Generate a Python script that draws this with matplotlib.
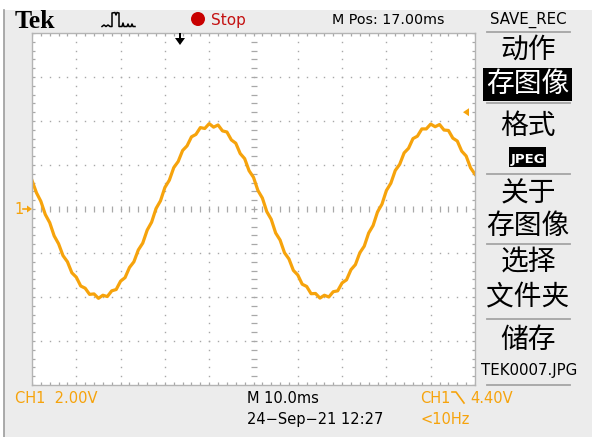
import matplotlib
matplotlib.use("Agg")
import matplotlib.pyplot as plt
import numpy as np
from matplotlib.patches import Rectangle, Circle, Polygon

# CH1 trace: 2 V/div, 10 ms/div, one sample per ms,
# trigger at t = 0 (M Pos 17.00 ms left of centre)
t_ms = np.arange(-33, 68, 1)
ch1_volts = [
    1.30, 0.74, 0.35, -0.25, -0.62, -1.22, -1.58, -2.12, -2.40, -2.90,
    -3.10, -3.50, -3.60, -3.88, -3.86, -4.06, -3.92, -3.98, -3.72, -3.66,
    -3.28, -3.12, -2.66, -2.40, -1.86, -1.55, -0.96, -0.60, 0.02, 0.37,
    0.98, 1.31, 1.88, 2.16, 2.66, 2.87, 3.28, 3.39, 3.70, 3.66,
    3.88, 3.72, 3.82, 3.55, 3.50, 3.14, 2.99, 2.52, 2.29, 1.74,
    1.44, 0.84, 0.50, -0.12, -0.47, -1.09, -1.41, -1.99, -2.27, -2.79,
    -3.00, -3.42, -3.52, -3.85, -3.84, -4.05, -3.92, -4.00, -3.76, -3.72,
    -3.36, -3.22, -2.76, -2.53, -1.99, -1.69, -1.09, -0.75, -0.13, 0.22,
    0.84, 1.17, 1.75, 2.03, 2.55, 2.76, 3.20, 3.31, 3.64, 3.64,
    3.86, 3.74, 3.84, 3.59, 3.57, 3.22, 3.09, 2.63, 2.41, 1.87,
    1.58,
]
volts_per_div = 2.0
ms_per_div = 10.0
trigger_level = 4.40

menu_items = ["动作", "存图像", "格式", "关于", "存图像", "选择", "文件夹", "储存"]

ORANGE = "#f6a30c"
GRID = "#a8a8a8"
BG = "#ececec"

fig = plt.figure(figsize=(5.92, 4.37), dpi=100)
fig.patch.set_facecolor("white")

# background in pixel coordinates
bg = fig.add_axes([0, 0, 1, 1], zorder=0)
bg.set_xlim(0, 592)
bg.set_ylim(437, 0)
bg.axis("off")
bg.add_patch(Rectangle((4, 10), 588, 427, color=BG, lw=0))
bg.plot([3.5, 3.5], [10, 437], color="#9c9c9c", lw=1.2)

# scope graticule
sc = fig.add_axes([32 / 592, (437 - 385) / 437, 443 / 592, 352 / 437], zorder=1)
x0, x1 = -33, 67
y0, y1 = -4 * volts_per_div, 4 * volts_per_div
sc.set_xlim(x0, x1)
sc.set_ylim(y0, y1)
sc.set_facecolor("white")
sc.set_xticks([])
sc.set_yticks([])
for s in sc.spines.values():
    s.set_color("#b4b4b4")
    s.set_linewidth(1.0)

xs_fine = np.arange(x0, x1 + 0.01, ms_per_div / 5)
ys_fine = np.arange(y0, y1 + 0.01, volts_per_div / 5)
for i in range(1, 10):
    xv = x0 + i * ms_per_div
    if i == 5:
        sc.plot(np.full_like(ys_fine, xv), ys_fine, ls="none", marker="_",
                ms=3.8, mew=0.9, color=GRID)
    else:
        sc.plot(np.full_like(ys_fine, xv), ys_fine, ls="none", marker="s",
                ms=1.0, mew=0, color=GRID)
for j in range(1, 8):
    yv = y0 + j * volts_per_div
    if j == 4:
        sc.plot(xs_fine, np.full_like(xs_fine, yv), ls="none", marker="|",
                ms=3.8, mew=0.9, color=GRID)
    else:
        sc.plot(xs_fine, np.full_like(xs_fine, yv), ls="none", marker="s",
                ms=1.0, mew=0, color=GRID)
# edge ticks
for yv in (y0, y1):
    sc.plot(xs_fine, np.full_like(xs_fine, yv), ls="none", marker="|",
            ms=4.5, mew=0.9, color=GRID)
for xv in (x0, x1):
    sc.plot(np.full_like(ys_fine, xv), ys_fine, ls="none", marker="_",
            ms=4.5, mew=0.9, color=GRID)

sc.plot(t_ms, ch1_volts, color=ORANGE, lw=2.3, solid_joinstyle="round")

# overlay for the readouts and menu
ov = fig.add_axes([0, 0, 1, 1], zorder=3)
ov.set_xlim(0, 592)
ov.set_ylim(437, 0)
ov.axis("off")
ov.patch.set_alpha(0)

ov.text(15, 28, "Tek", family=["Liberation Serif", "DejaVu Serif"],
        weight="bold", fontsize=18.5, va="baseline", color="black")
icon_x = [102, 104, 106, 108, 110, 112, 112, 115, 116, 117, 119, 119, 122, 123,
          124, 127, 128, 129, 131, 132, 133, 135]
icon_y = [26.5, 25, 26.5, 25, 26.5, 26.5, 13, 12.5, 15, 12.5, 13, 26.5, 26.5, 23,
          26.5, 26.5, 24, 26.5, 26.5, 24, 26.5, 26.5]
ov.plot(icon_x, icon_y, color="black", lw=1.1)
ov.add_patch(Circle((198, 19), 7, color="#c80000", lw=0))
ov.text(211, 25.5, "Stop", fontsize=11, color="#c41010", va="baseline")
ov.text(332, 24, "M Pos: 17.00ms", fontsize=10.3, color="black", va="baseline")
ov.text(528, 24, "SAVE_REC", fontsize=10.8, color="black", va="baseline", ha="center")

# trigger position arrow
ov.add_patch(Polygon([(179, 33), (181, 33), (181, 38), (185, 38), (180, 45),
                      (175, 38), (179, 38)], closed=True, color="black", lw=0))
# trigger level marker
tl_y = 209 - trigger_level / volts_per_div * 44
ov.add_patch(Polygon([(463, tl_y), (469, tl_y - 4), (469, tl_y + 4)],
                     closed=True, color=ORANGE, lw=0))
# channel ground marker
ov.text(14, 214, "1", fontsize=10.5, color=ORANGE, va="baseline")
ov.plot([23, 28], [209, 209], color=ORANGE, lw=1.2)
ov.add_patch(Polygon([(27, 205.5), (32, 209), (27, 212.5)], closed=True,
                     color=ORANGE, lw=0))

# menu
cjk = ["Noto Sans CJK SC", "DejaVu Sans"]
for y in (32, 103, 174, 244, 319, 385):
    ov.plot([487, 570], [y, y], color="#a4a4a4", lw=1.3)
ov.add_patch(Rectangle((483, 68), 89, 33, color="black", lw=0))
ov.add_patch(Rectangle((509, 147), 37, 20, color="black", lw=0))
menu_y = [50, 84, 126, 193, 226, 263, 297, 340]
for lbl, y in zip(menu_items, menu_y):
    col = "white" if y == 84 else "black"
    ov.text(528, y, lbl, family=cjk, fontsize=20, color=col, ha="center", va="center")
ov.text(527.5, 163, "JPEG", fontsize=9.5, weight="bold", color="white",
        ha="center", va="baseline")
ov.text(529, 375, "TEK0007.JPG", fontsize=10.8, color="black", ha="center", va="baseline")

# bottom readouts
ov.text(15, 403, "CH1  2.00V", fontsize=10.5, color=ORANGE, va="baseline")
ov.text(247, 403, "M 10.0ms", fontsize=10.5, color="black", va="baseline")
ov.text(247, 424, "24\u2212Sep\u221221 12:27", fontsize=10.5, color="black", va="baseline")
ov.text(420, 403, "CH1", fontsize=10.5, color=ORANGE, va="baseline")
ov.plot([452, 456, 464], [392, 392, 403], color=ORANGE, lw=1.2)
ov.text(470, 403, "4.40V", fontsize=10.5, color=ORANGE, va="baseline")
ov.text(420, 424, "<10Hz", fontsize=10.5, color=ORANGE, va="baseline")

fig.savefig("out.png", dpi=100)
